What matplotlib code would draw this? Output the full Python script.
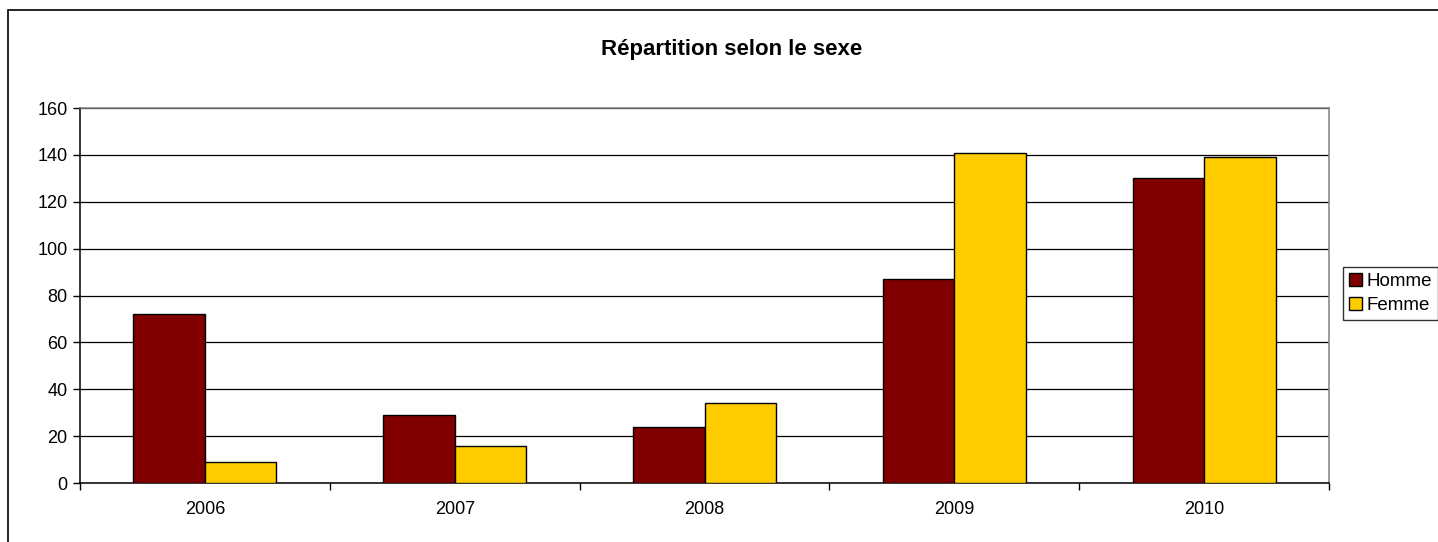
import matplotlib.pyplot as plt
import matplotlib.patches as patches
import numpy as np

plt.rcParams['font.family'] = ['Liberation Sans', 'DejaVu Sans']

annees = ['2006', '2007', '2008', '2009', '2010']
homme = [72, 29, 24, 87, 130]
femme = [9, 16, 34, 141, 139]

W, H = 1438, 542
fig = plt.figure(figsize=(W / 100, H / 100), dpi=100)

# cadre du graphique (coupé à droite et en bas comme dans Excel)
cadre = patches.Rectangle((8 / W, -0.05), 1.1, 1 - 10 / H + 0.05,
                          transform=fig.transFigure, fill=False,
                          edgecolor='black', linewidth=1.2, clip_on=False)
fig.patches.append(cadre)

ax = fig.add_axes([80 / W, 59 / H, (1329 - 80) / W, 375 / H])

x = np.arange(len(annees))
w = 0.286
ax.bar(x - w / 2, homme, w, color='#800000', edgecolor='black', linewidth=1, label='Homme', zorder=3)
ax.bar(x + w / 2, femme, w, color='#FFCC00', edgecolor='black', linewidth=1, label='Femme', zorder=3)

ax.set_xlim(-0.5, len(annees) - 0.5)
ax.set_ylim(0, 160)
ax.set_yticks(range(0, 161, 20))
ax.yaxis.grid(True, color='black', linewidth=0.9, zorder=0)
ax.set_axisbelow(True)

ax.set_xticks(x)
ax.set_xticklabels(annees)
ax.set_xticks(np.arange(-0.5, len(annees), 1), minor=True)
ax.tick_params(axis='x', which='major', length=0, pad=13, labelsize=13)
ax.tick_params(axis='x', which='minor', length=5, width=1, direction='out')
ax.tick_params(axis='y', length=5, width=1, direction='out', labelsize=13, pad=4)

ax.spines['left'].set_color('black')
ax.spines['bottom'].set_color('black')
ax.spines['top'].set_color('#808080')
ax.spines['right'].set_color('#808080')
for s in ax.spines.values():
    s.set_linewidth(1.1)

fig.text(732 / W, 1 - 50 / H, 'Répartition selon le sexe', ha='center', va='center',
         fontsize=16, fontweight='bold')

leg = fig.legend(loc='upper left', bbox_to_anchor=(1343 / W, 1 - 267 / H),
                 fontsize=13.5, frameon=True, fancybox=False, edgecolor='black',
                 handlelength=0.7, handleheight=0.7, handletextpad=0.25,
                 borderpad=0.3, labelspacing=0.4, borderaxespad=0)
leg.get_frame().set_linewidth(1)

fig.savefig('out.png', dpi=100)
